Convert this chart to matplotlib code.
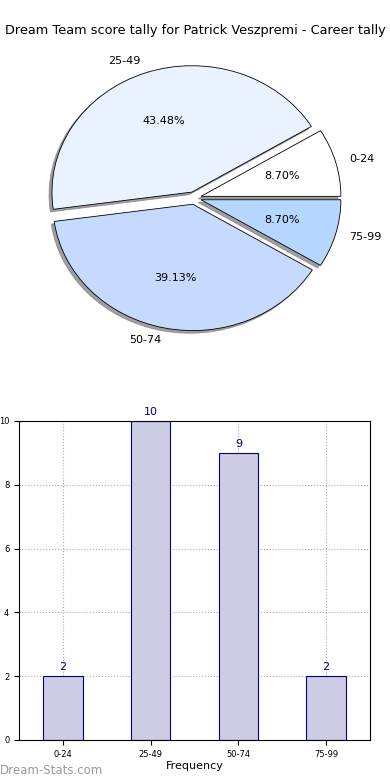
import matplotlib
matplotlib.use("Agg")
import matplotlib.pyplot as plt

# score bands and how often each came up
bands = ["0-24", "25-49", "50-74", "75-99"]
counts = [2, 10, 9, 2]
pie_colors = ["#ffffff", "#eaf1ff", "#c6d9ff", "#b5d6ff"]
title = "Dream Team score tally for Patrick Veszpremi - Career tally"

fig = plt.figure(figsize=(3.9, 7.8), dpi=100)
fig.text(0.5, 0.961, title, ha="center", va="center", fontsize=9.3)

# pie (not equal aspect, so it comes out a bit squashed like the original)
ax1 = fig.add_axes([0.0495, 0.5436, 0.897, 0.405])
wedges, texts, autotexts = ax1.pie(
    counts, labels=bands, colors=pie_colors, explode=[0.05] * 4,
    shadow={"ox": -0.015, "oy": -0.015, "color": "#777777", "alpha": 0.7},
    startangle=0, autopct="%1.2f%%",
    wedgeprops=dict(edgecolor="black", linewidth=0.6),
    textprops=dict(fontsize=8))
ax1.set_aspect("auto")
ax1.set_xlim(-1.25, 1.25)
ax1.set_ylim(-1.25, 1.25)

# bar chart of the same counts
ax2 = fig.add_axes([0.0487, 0.0513, 0.9, 0.409])
x = list(range(len(bands)))
ax2.bar(x, counts, width=0.45, color="#ccccE5", edgecolor="#000080",
        linewidth=0.8, zorder=2)
for xi, c in zip(x, counts):
    ax2.text(xi, c + 0.12, str(c), ha="center", va="bottom",
             fontsize=8, color="#000080")
ax2.set_xlim(-0.5, 3.5)
ax2.set_ylim(0, 10)
ax2.set_xticks(x)
ax2.set_xticklabels(bands, fontsize=6)
ax2.set_yticks([0, 2, 4, 6, 8, 10])
ax2.tick_params(axis="y", labelsize=6)
ax2.grid(True, linestyle=":", color="#aaaaaa", linewidth=0.8, zorder=0)
ax2.set_xlabel("Frequency", fontsize=8, labelpad=2)
# the original y label is clipped at the left edge as well
ax2.set_ylabel("Occurrences", fontsize=7)
ax2.yaxis.set_label_coords(-0.062, 0.5)

fig.text(0.0, 0.004, "Dream-Stats.com", fontsize=8.5, color="#999999",
         ha="left", va="bottom")

fig.savefig("out.png", dpi=100)
